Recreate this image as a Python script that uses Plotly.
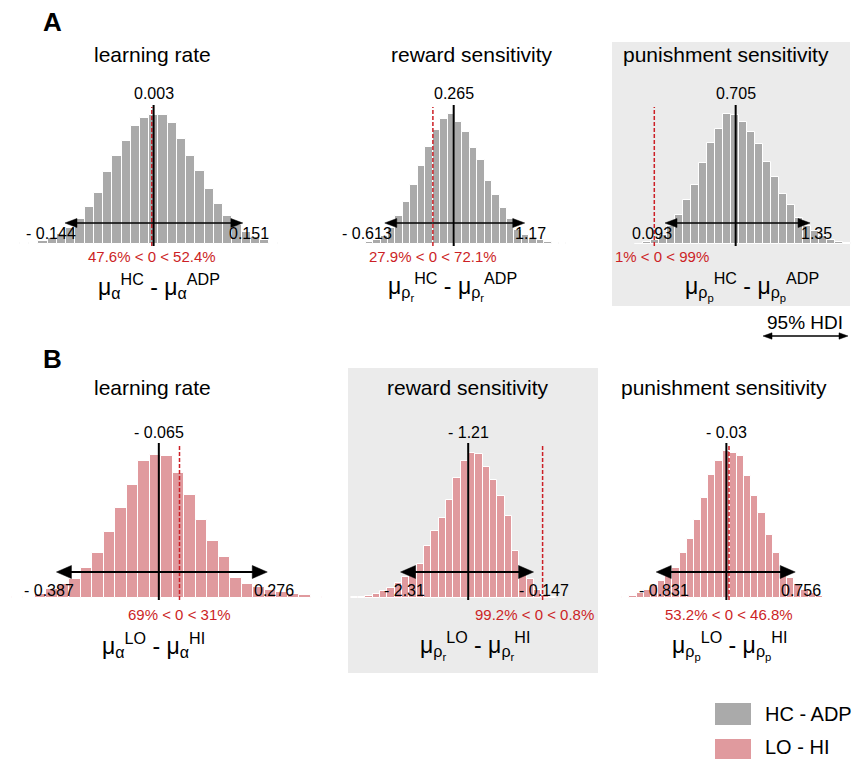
import plotly.graph_objects as go

W, H = 857, 759

# ---------------- data ----------------
titles = ["learning rate", "reward sensitivity", "punishment sensitivity",
          "learning rate", "reward sensitivity", "punishment sensitivity"]
groups = ["HC - ADP", "HC - ADP", "HC - ADP", "LO - HI", "LO - HI", "LO - HI"]
means = [0.003, 0.265, 0.705, -0.065, -1.21, -0.03]
mean_labels = ["0.003", "0.265", "0.705", "- 0.065", "- 1.21", "- 0.03"]
hdi_low = [-0.144, -0.613, 0.093, -0.387, -2.31, -0.831]
hdi_high = [0.151, 1.17, 1.35, 0.276, -0.147, 0.756]
hdi_low_labels = ["- 0.144", "- 0.613", "0.093", "- 0.387", "- 2.31", "- 0.831"]
hdi_high_labels = ["0.151", "1.17", "1.35", "0.276", "- 0.147", "0.756"]
pct_below = ["47.6%", "27.9%", "1%", "69%", "99.2%", "53.2%"]
pct_above = ["52.4%", "72.1%", "99%", "31%", "0.8%", "46.8%"]
SEP = " - "
xlabels = [
    "μ<sub>α</sub><sup>HC</sup>" + SEP + "μ<sub>α</sub><sup>ADP</sup>",
    "μ<sub>ρ<sub>r</sub></sub><sup>HC</sup>" + SEP + "μ<sub>ρ<sub>r</sub></sub><sup>ADP</sup>",
    "μ<sub>ρ<sub>p</sub></sub><sup>HC</sup>" + SEP + "μ<sub>ρ<sub>p</sub></sub><sup>ADP</sup>",
    "μ<sub>α</sub><sup>LO</sup>" + SEP + "μ<sub>α</sub><sup>HI</sup>",
    "μ<sub>ρ<sub>r</sub></sub><sup>LO</sup>" + SEP + "μ<sub>ρ<sub>r</sub></sub><sup>HI</sup>",
    "μ<sub>ρ<sub>p</sub></sub><sup>LO</sup>" + SEP + "μ<sub>ρ<sub>p</sub></sub><sup>HI</sup>",
]
bin_start = [-0.2186, -0.950, -0.165, -0.528, -3.12, -1.301]
bin_width = [0.01531, 0.0947, 0.0693, 0.0362, 0.1192, 0.0818]
counts_A1 = [3, 4, 9, 18, 30, 48, 75, 112, 154, 217, 265, 310, 354, 379,
             387, 387, 362, 316, 265, 219, 164, 120, 85, 57, 37, 22, 12, 4]
counts_A2 = [1, 7, 12, 25, 47, 84, 127, 177, 234, 292, 342, 375, 389, 367,
             337, 287, 252, 189, 147, 107, 74, 42, 27, 15, 12, 7, 3, 2]
counts_A3 = [1, 5, 13, 28, 53, 88, 133, 178, 243, 303, 346, 390, 386, 365,
             335, 300, 246, 200, 151, 116, 78, 53, 38, 23, 11, 6, 3]
counts_B1 = [2, 4, 12, 27, 42, 57, 90, 134, 197, 270, 340, 412, 430, 425,
             374, 309, 235, 172, 122, 60, 42, 32, 24, 17, 12, 9, 2]
counts_B2 = [2, 4, 7, 13, 20, 30, 45, 63, 85, 102, 155, 202, 240, 295,
             360, 410, 435, 433, 393, 355, 305, 245, 140, 85, 57, 25, 10, 3]
counts_B3 = [1, 3, 7, 15, 25, 40, 50, 65, 90, 135, 177, 235, 300, 370, 410,
             442, 435, 427, 365, 305, 255, 190, 135, 90, 60, 42, 25, 15, 7, 1]
counts = [counts_A1, counts_A2, counts_A3, counts_B1, counts_B2, counts_B3]
legend_names = ["HC - ADP", "LO - HI"]

# ---------------- layout / style config ----------------
FONT = "Liberation Sans, Arial, sans-serif"
COLORS = {"HC - ADP": "#AAAAAA", "LO - HI": "#E09A9E"}
RED = "#CC1F26"
xdom_px = [(0, 300), (330, 600), (612, 857), (0, 340), (348, 600), (605, 857)]
zero_px = [151.8, 432.9, 654.3, 179.5, 542.6, 729.0]
px_per_unit = [603, 78.5, 115.4, 318, 61.5, 87.6]
base_px = [244, 244, 244, 598, 598, 598]
title_x = [152, 472, 726, 152, 468, 724]
title_y = [55, 55, 55, 387, 387, 387]
xlab_x = [159, 452, 752, 153, 475, 729]
xlab_y = [286, 286, 286, 645, 645, 645]
lshift = [13, 9, 9, 20, 26, 35]
rshift = [-16, -12, -11, -15, -17, -16]
red_shift = [0, 0, 8, 0, -8, 0]
CPP = 3.0  # count units per pixel


def px(x):
    return x / W


def py(y):
    return 1 - y / H


fig = go.Figure()
shapes = []
annotations = []

# grey panel backgrounds
for (x0, y0, x1, y1) in [(612, 42, 850, 306), (348, 368, 598, 673)]:
    shapes.append(dict(type="rect", xref="paper", yref="paper",
                       x0=px(x0), x1=px(x1), y0=py(y1), y1=py(y0),
                       fillcolor="#EBEBEB", line=dict(width=0), layer="below"))

layout_axes = {}
for i in range(6):
    suf = "" if i == 0 else str(i + 1)
    xa, ya = "x" + suf, "y" + suf
    L, R = xdom_px[i]
    z, s = zero_px[i], px_per_unit[i]
    b = base_px[i]
    isA = i < 3
    layout_axes["xaxis" + suf] = dict(domain=[px(L), px(R)],
                                      range=[(L - z) / s, (R - z) / s],
                                      visible=False, fixedrange=True,
                                      anchor=ya)
    layout_axes["yaxis" + suf] = dict(domain=[py(b + 60), py(b - 170)],
                                      range=[-60 * CPP, 170 * CPP],
                                      visible=False, fixedrange=True,
                                      anchor=xa)
    c = counts[i]
    centers = [bin_start[i] + (k + 0.5) * bin_width[i] for k in range(len(c))]
    fig.add_trace(go.Bar(x=centers, y=c, width=bin_width[i],
                         marker=dict(color=COLORS[groups[i]],
                                     line=dict(color="white", width=1)),
                         xaxis=xa, yaxis=ya, showlegend=False,
                         hoverinfo="skip"))

    top_line = (b - 105) * CPP if isA else (b - 443) * CPP
    # red dashed zero line
    shapes.append(dict(type="line", xref=xa, yref=ya, x0=0, x1=0,
                       y0=-2 * CPP, y1=top_line - 2 * CPP,
                       line=dict(color=RED, width=1.5, dash="4px,2px")))
    # black mean line
    shapes.append(dict(type="line", xref=xa, yref=ya, x0=means[i], x1=means[i],
                       y0=-2 * CPP, y1=top_line,
                       line=dict(color="black", width=2)))
    # HDI arrow
    ay = (21 if isA else 26) * CPP
    lw = 1.6 if isA else 2.2
    hl = (12 if isA else 15) / s
    hh = (4.5 if isA else 6.5) * CPP
    shapes.append(dict(type="line", xref=xa, yref=ya,
                       x0=hdi_low[i] + hl * 0.5, x1=hdi_high[i] - hl * 0.5,
                       y0=ay, y1=ay, line=dict(color="black", width=lw)))
    for tip, d in [(hdi_low[i], 1), (hdi_high[i], -1)]:
        path = "M{},{} L{},{} L{},{} Z".format(tip, ay, tip + d * hl, ay + hh,
                                              tip + d * hl, ay - hh)
        shapes.append(dict(type="path", xref=xa, yref=ya, path=path,
                           fillcolor="black", line=dict(color="black", width=0.5)))
    # labels
    annotations.append(dict(xref=xa, yref=ya, x=means[i],
                            y=(151 if isA else 166) * CPP,
                            text=mean_labels[i], showarrow=False,
                            font=dict(family=FONT, size=16, color="black"),
                            xanchor="center", yanchor="middle"))
    ly = (11 if isA else 8) * CPP
    annotations.append(dict(xref=xa, yref=ya, x=hdi_low[i], y=ly,
                            text=hdi_low_labels[i], showarrow=False,
                            xshift=lshift[i],
                            font=dict(family=FONT, size=16, color="black"),
                            xanchor="right", yanchor="middle"))
    annotations.append(dict(xref=xa, yref=ya, x=hdi_high[i], y=ly,
                            text=hdi_high_labels[i], showarrow=False,
                            xshift=rshift[i],
                            font=dict(family=FONT, size=16, color="black"),
                            xanchor="left", yanchor="middle"))
    annotations.append(dict(xref=xa, yref=ya, x=0,
                            y=(-12 if isA else -16) * CPP,
                            text="{} &lt; 0 &lt; {}".format(pct_below[i], pct_above[i]),
                            showarrow=False, xshift=red_shift[i],
                            font=dict(family=FONT, size=15, color=RED),
                            xanchor="center", yanchor="middle"))
    annotations.append(dict(xref="paper", yref="paper", x=px(title_x[i]),
                            y=py(title_y[i]), text=titles[i], showarrow=False,
                            font=dict(family=FONT, size=21, color="black"),
                            xanchor="center", yanchor="middle"))
    annotations.append(dict(xref="paper", yref="paper", x=px(xlab_x[i]),
                            y=py(xlab_y[i]), text=xlabels[i], showarrow=False,
                            font=dict(family=FONT, size=23, color="black"),
                            xanchor="center", yanchor="middle"))

# panel letters
for letter, (lx, ly_) in [("A", (52, 22)), ("B", (52, 359))]:
    annotations.append(dict(xref="paper", yref="paper", x=px(lx), y=py(ly_),
                            text="<b>{}</b>".format(letter), showarrow=False,
                            font=dict(family=FONT, size=26, color="black"),
                            xanchor="center", yanchor="middle"))

# 95% HDI key
annotations.append(dict(xref="paper", yref="paper", x=px(805), y=py(322),
                        text="95% HDI", showarrow=False,
                        font=dict(family=FONT, size=19, color="black"),
                        xanchor="center", yanchor="middle"))
kx0, kx1, kyy = 763, 848, 336
shapes.append(dict(type="line", xref="paper", yref="paper",
                   x0=px(kx0 + 4), x1=px(kx1 - 4), y0=py(kyy), y1=py(kyy),
                   line=dict(color="black", width=1.3)))
for tip, d in [(kx0, 1), (kx1, -1)]:
    path = "M{},{} L{},{} L{},{} Z".format(px(tip), py(kyy), px(tip + d * 9),
                                          py(kyy - 3.2), px(tip + d * 9), py(kyy + 3.2))
    shapes.append(dict(type="path", xref="paper", yref="paper", path=path,
                       fillcolor="black", line=dict(color="black", width=0.5)))

# legend
for name, (y0, y1, ty) in zip(legend_names, [(703, 725, 714), (739, 760, 747)]):
    shapes.append(dict(type="rect", xref="paper", yref="paper",
                       x0=px(715), x1=px(751), y0=py(y1), y1=py(y0),
                       fillcolor=COLORS[name], line=dict(width=0)))
    annotations.append(dict(xref="paper", yref="paper", x=px(763), y=py(ty),
                            text=name, showarrow=False,
                            font=dict(family=FONT, size=20, color="black"),
                            xanchor="left", yanchor="middle"))

fig.update_layout(width=W, height=H, margin=dict(l=0, r=0, t=0, b=0),
                  paper_bgcolor="white", plot_bgcolor="rgba(0,0,0,0)",
                  barmode="overlay", bargap=0, showlegend=False,
                  shapes=shapes, annotations=annotations, **layout_axes)

fig.write_html("out.html", config={"displayModeBar": False},
               post_script="document.body.style.margin='0';"
                           "document.body.style.overflow='hidden';")
